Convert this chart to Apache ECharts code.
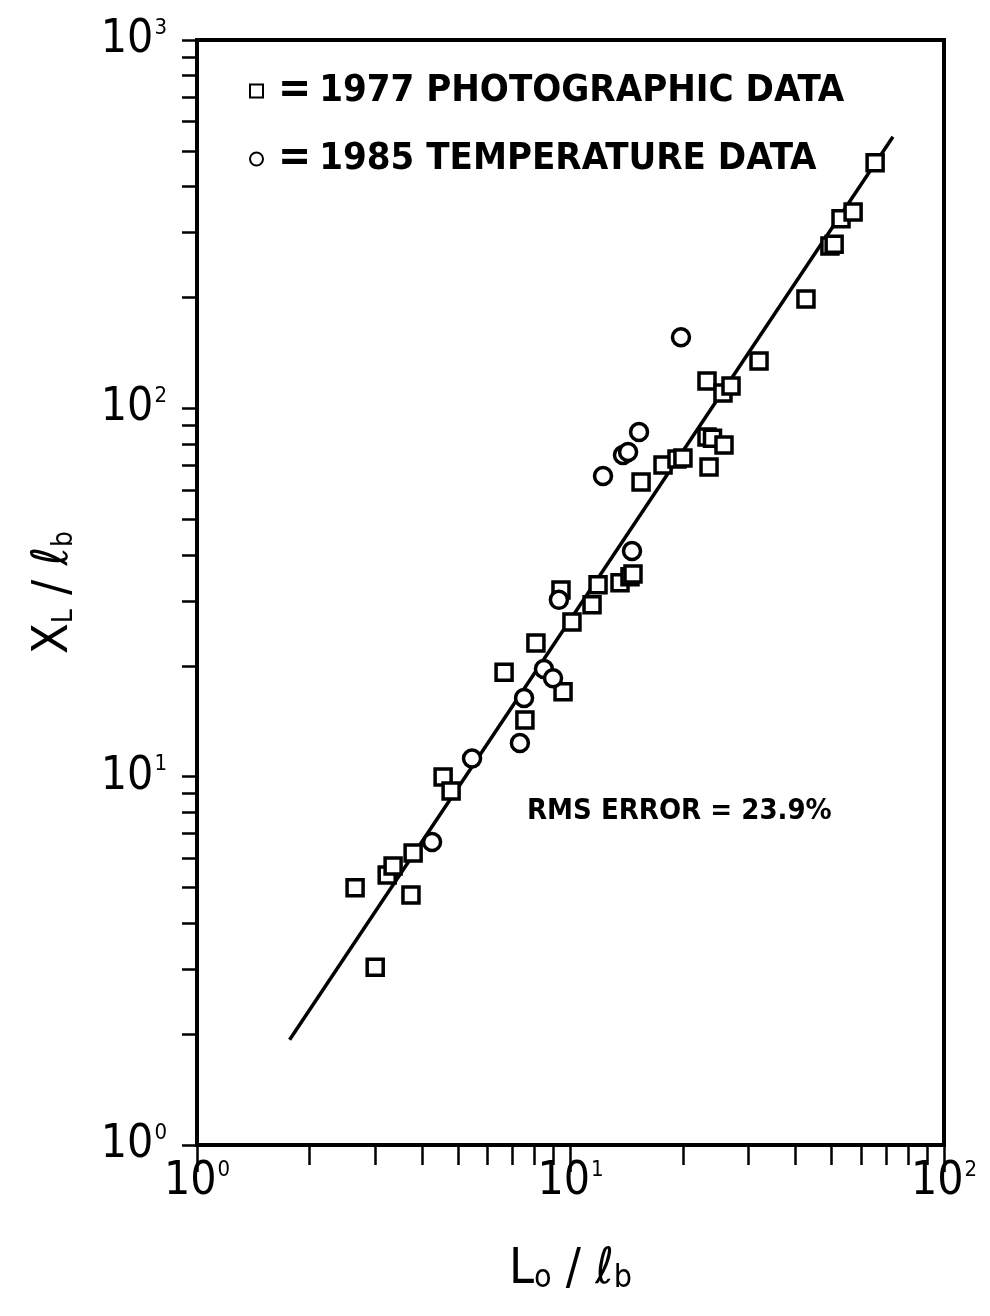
<!DOCTYPE html>
<html>
<head>
<meta charset="utf-8">
<script src="https://cdn.jsdelivr.net/npm/echarts@6/dist/echarts.min.js"></script>
<style>
html, body { margin: 0; padding: 0; background: #fff; }
#chart { width: 990px; height: 1316px; }
</style>
</head>
<body>
<div id="chart"></div>
<script>
// 1977 photographic data (squares)
var photoX = [2.65, 3.00, 3.23, 3.35, 3.74, 3.79, 4.56, 4.79, 6.64, 7.55, 8.08, 9.55, 9.43, 10.09,
    11.42, 11.85, 13.57, 14.43, 14.7, 15.45, 17.69, 19.28, 20.0, 23.2, 23.2, 23.49, 24.0, 25.76,
    25.6, 26.9, 31.97, 42.7, 49.5, 50.8, 53.0, 57.1, 65.4];
var photoY = [4.99, 3.04, 5.41, 5.72, 4.77, 6.21, 9.98, 9.15, 19.2, 14.26, 23.07, 17.0, 32.1, 26.3,
    29.3, 33.2, 33.6, 34.9, 35.5, 63.1, 70.2, 72.9, 73.3, 118.7, 83.6, 69.3, 83.0, 79.5,
    110, 115, 134.5, 198, 276, 279, 327, 341, 464];

// 1985 temperature data (circles)
var tempX = [4.26, 5.45, 7.32, 7.51, 8.49, 8.98, 9.31, 12.22, 13.82, 14.26, 15.26, 14.61, 19.76];
var tempY = [6.65, 11.2, 12.35, 16.36, 19.6, 18.5, 30.2, 65.5, 74.7, 76.1, 86.3, 41.0, 156];

// fitted line end points
var fitX = [1.77, 73.0];
var fitY = [1.93, 546];

var xMajor = [1, 10, 100];
var yMajor = [1, 10, 100, 1000];

function pairs(xs, ys) {
    var out = [];
    for (var i = 0; i < xs.length; i++) out.push([xs[i], ys[i]]);
    return out;
}
function decadeTicks(lo, hi) {
    var out = [];
    for (var d = lo; d < hi; d *= 10) {
        for (var k = 1; k < 10; k++) out.push(d * k);
    }
    out.push(hi);
    return out;
}
function powLabel(v) {
    return '10{s|' + Math.round(Math.log(v) / Math.LN10) + '}';
}

var labelFont = '"DejaVu Sans Condensed", "DejaVu Sans", sans-serif';
var supRich = {
    s: { fontSize: 22, fontFamily: labelFont, color: '#000', verticalAlign: 'top', padding: [0, 0, 20, 1] }
};

var markerStyle = {
    color: '#fff',
    borderColor: '#000',
    borderWidth: 3.5,
    opacity: 1
};

var option = {
    backgroundColor: '#fff',
    animation: false,
    grid: {
        left: 197, right: 46, top: 40, bottom: 171,
        show: true, borderColor: '#000', borderWidth: 4, backgroundColor: 'transparent'
    },
    legend: {
        data: ['1977 PHOTOGRAPHIC DATA', '1985 TEMPERATURE DATA'],
        orient: 'vertical',
        left: 244, top: 64,
        itemWidth: 13, itemHeight: 13,
        itemGap: 24,
        formatter: function (name) { return '{eq|=}' + name; },
        textStyle: {
            fontFamily: labelFont, fontWeight: 'bold', fontSize: 38, color: '#000',
            rich: { eq: { fontFamily: labelFont, fontWeight: 'bold', fontSize: 44, color: '#000', padding: [0, 8, 0, 10] } }
        },
        selectedMode: false
    },
    xAxis: [{
        type: 'log', logBase: 10, min: 1, max: 100,
        position: 'bottom',
        axisLine: { lineStyle: { color: '#000', width: 4 } },
        axisTick: { show: true, inside: false, length: 20, customValues: decadeTicks(1, 100), lineStyle: { color: '#000', width: 2.5 } },
        splitLine: { show: false },
        axisLabel: {
            customValues: xMajor, margin: 14,
            formatter: powLabel, fontFamily: labelFont, fontSize: 46, color: '#000',
            rich: supRich
        },
        name: 'L{sub|o} / {l|ℓ}{sub|b}',
        nameLocation: 'middle', nameGap: 100,
        nameTextStyle: {
            fontFamily: labelFont, fontSize: 50, color: '#000',
            rich: {
                sub: { fontFamily: labelFont, fontSize: 32, color: '#000', verticalAlign: 'bottom', padding: [14, 0, 0, 0] },
                l: { fontFamily: labelFont, fontSize: 50, color: '#000' }
            }
        }
    }, {
        type: 'log', logBase: 10, min: 1, max: 100,
        position: 'bottom',
        axisLine: { show: false },
        axisTick: { show: true, length: 27, customValues: xMajor, lineStyle: { color: '#000', width: 2.5 } },
        axisLabel: { show: false },
        splitLine: { show: false }
    }],
    yAxis: [{
        type: 'log', logBase: 10, min: 1, max: 1000,
        position: 'left',
        axisLine: { lineStyle: { color: '#000', width: 4 } },
        axisTick: { show: true, inside: false, length: 15, customValues: decadeTicks(1, 1000), lineStyle: { color: '#000', width: 2.5 } },
        splitLine: { show: false },
        axisLabel: {
            customValues: yMajor, margin: 30,
            formatter: powLabel, fontFamily: labelFont, fontSize: 46, color: '#000',
            rich: supRich
        },
        name: 'X{sub|L} / {l|ℓ}{sub|b}',
        nameLocation: 'middle', nameGap: 118, nameRotate: 90,
        nameTextStyle: {
            fontFamily: labelFont, fontSize: 50, color: '#000',
            rich: {
                sub: { fontFamily: labelFont, fontSize: 28, color: '#000', verticalAlign: 'bottom', padding: [14, 0, 0, 0] },
                l: { fontFamily: labelFont, fontSize: 50, color: '#000' }
            }
        }
    }],
    graphic: [{
        type: 'text',
        left: 527, top: 797,
        style: {
            text: 'RMS ERROR = 23.9%',
            font: 'bold 29px "DejaVu Sans Condensed", "DejaVu Sans", sans-serif',
            fill: '#000'
        }
    }],
    series: [
        {
            name: 'fit',
            type: 'line',
            data: pairs(fitX, fitY),
            symbol: 'none',
            lineStyle: { color: '#000', width: 3.5 },
            z: 1
        },
        {
            name: '1977 PHOTOGRAPHIC DATA',
            type: 'scatter',
            symbol: 'rect',
            symbolSize: 16,
            itemStyle: markerStyle,
            data: pairs(photoX, photoY),
            z: 3
        },
        {
            name: '1985 TEMPERATURE DATA',
            type: 'scatter',
            symbol: 'circle',
            symbolSize: 17,
            itemStyle: markerStyle,
            data: pairs(tempX, tempY),
            z: 3
        }
    ]
};

var myChart = echarts.init(document.getElementById('chart'));
myChart.setOption(option);
</script>
</body>
</html>
